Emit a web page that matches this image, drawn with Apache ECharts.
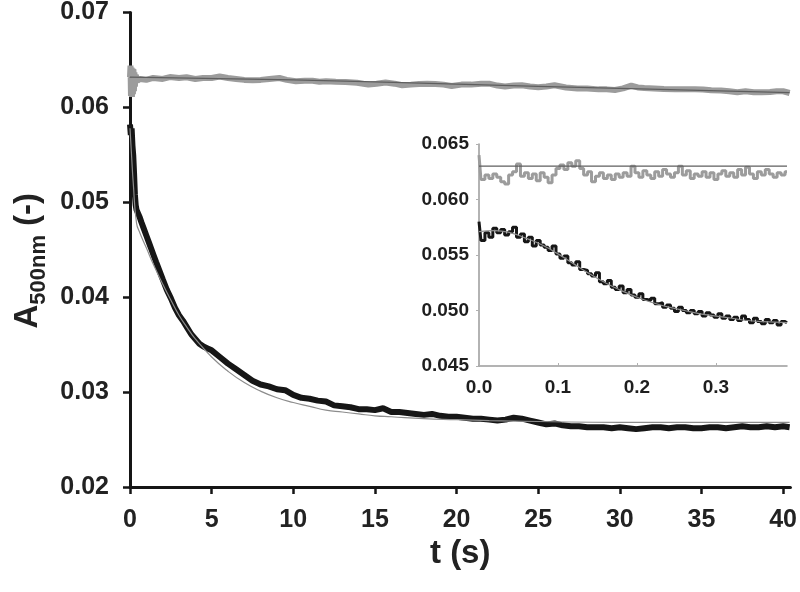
<!DOCTYPE html>
<html><head><meta charset="utf-8">
<script src="https://cdn.jsdelivr.net/npm/echarts@6/dist/echarts.min.js"></script>
<style>html,body{margin:0;padding:0;background:#fff}#c{width:800px;height:592px}</style>
</head><body><div id="c"></div>
<script>
// ---------- main panel ----------
const mainXTicks = [0, 5, 10, 15, 20, 25, 30, 35, 40];
const mainYTicks = [0.02, 0.03, 0.04, 0.05, 0.06, 0.07];

const greyT = [0,0.03,0.06,0.09,0.12,0.15,0.18,0.21,0.24,0.27,0.3,0.35,0.45,0.61,1.0,1.42,2.0,2.44,3.0,3.46,4.0,4.47,5.0,5.49,6.0,6.5,7.0,7.52,8.0,8.54,9.15,9.6,10.16,10.7,11.18,11.6,12.0,12.6,13.2,13.9,14.6,15.1,15.65,16.2,16.67,17.2,17.7,18.2,18.7,19.2,19.7,20.3,20.9,21.5,22.0,22.5,22.97,23.5,24.0,24.5,25.0,25.5,26.0,26.7,27.4,28.0,28.7,29.2,29.7,30.2,30.7,31.1,31.5,32.1,32.7,33.4,34.1,34.6,35.1,35.6,36.2,36.7,37.2,37.7,38.2,38.7,39.2,39.6,40.0,40.4];
const greyA = [0.0632,0.0644,0.0612,0.0642,0.0611,0.0641,0.0614,0.0640,0.0617,0.0637,0.0622,0.0634,0.0628,0.0630,0.0629,0.0631,0.0630,0.0632,0.0631,0.06317,0.0630,0.0631,0.0631,0.06325,0.0631,0.0630,0.0629,0.06286,0.0629,0.0630,0.0631,0.0629,0.06275,0.0628,0.0628,0.0627,0.06275,0.0627,0.06268,0.0626,0.0624,0.0625,0.06262,0.0625,0.06233,0.0624,0.06247,0.0625,0.06247,0.0624,0.06226,0.0624,0.0624,0.0625,0.0625,0.0623,0.0622,0.0623,0.06233,0.0622,0.06212,0.0622,0.06233,0.0621,0.0620,0.0620,0.0619,0.0619,0.06184,0.0620,0.0623,0.0621,0.06205,0.0620,0.06195,0.0619,0.0619,0.0619,0.06188,0.0618,0.06178,0.0617,0.0616,0.0617,0.0616,0.0616,0.06163,0.0617,0.0617,0.06152];

const greyFitT = [0, 10, 20, 30, 40.4];
const greyFitA = [0.0632, 0.0629, 0.06245, 0.0620, 0.06155];

const blackT = [0,0.05,0.1,0.15,0.2,0.25,0.3,0.35,0.4,0.5,0.6,0.7,0.85,1.0,1.15,1.3,1.45,1.6,1.8,2.0,2.25,2.5,2.75,3.0,3.25,3.5,3.75,4.0,4.25,4.5,4.75,5.0,5.5,6.0,6.5,7.0,7.5,8.0,8.5,9.0,9.5,10.0,10.5,11.0,11.5,12.0,12.5,13.0,13.5,14.0,14.5,15.0,15.5,16.0,16.5,17.0,17.5,18.0,18.5,19.0,19.5,20.0,20.5,21.0,21.5,22.0,22.5,23.0,23.5,24.0,24.5,25.0,25.5,26.0,26.5,27.0,27.5,28.0,28.5,29.0,29.5,30.0,30.5,31.0,31.5,32.0,32.5,33.0,33.5,34.0,34.5,35.0,35.5,36.0,36.5,37.0,37.5,38.0,38.5,39.0,39.5,40.0,40.4];
const blackA = [0.0582,0.0571,0.0578,0.0560,0.0549,0.0530,0.0508,0.0497,0.0492,0.0488,0.0484,0.0479,0.0472,0.0465,0.0458,0.0451,0.0444,0.0437,0.0428,0.0419,0.0408,0.0399,0.0389,0.0381,0.0375,0.0368,0.0361,0.0356,0.0351,0.0348,0.0346,0.0344,0.0337,0.0330,0.0324,0.0318,0.0312,0.0308,0.0306,0.0303,0.0302,0.0297,0.0294,0.0293,0.0291,0.0290,0.0286,0.0285,0.0284,0.0282,0.0282,0.0281,0.0283,0.0279,0.0279,0.0278,0.0277,0.0276,0.0277,0.0275,0.0274,0.0274,0.0273,0.0272,0.0272,0.0271,0.0270,0.0271,0.0273,0.0272,0.0270,0.0268,0.0266,0.0267,0.0265,0.0264,0.0264,0.0263,0.0263,0.0263,0.0262,0.0263,0.0262,0.0261,0.0262,0.0263,0.0263,0.0262,0.0263,0.0263,0.0262,0.0262,0.0263,0.0263,0.0262,0.0263,0.0264,0.0263,0.0263,0.0264,0.0263,0.0264,0.0263];

const blackFitT = [0,0.1,0.2,0.4,0.6,1.0,1.5,2.0,2.5,3.0,3.5,4.0,5.0,6.0,7.0,8.0,9.0,10.0,11.0,12.0,13.0,14.0,15.0,16.0,18.0,20.0,22.0,25.0,30.0,35.0,40.4];
const blackFitA = [0.0578,0.0548,0.0520,0.0478,0.0468,0.0452,0.0432,0.0414,0.0397,0.0381,0.0368,0.0356,0.0337,0.0322,0.0310,0.0301,0.0294,0.0289,0.0285,0.0281,0.0279,0.0277,0.0275,0.0274,0.0272,0.0271,0.0270,0.0269,0.0268,0.0268,0.0268];

// ---------- inset ----------
const insetXTicks = [0.0, 0.1, 0.2, 0.3];
const insetYTicks = [0.045, 0.050, 0.055, 0.060, 0.065];
const insetT = [0.000,0.005,0.010,0.015,0.020,0.025,0.030,0.035,0.040,0.045,0.050,0.055,0.060,0.065,0.070,0.075,0.080,0.085,0.090,0.095,0.100,0.105,0.110,0.115,0.120,0.125,0.130,0.135,0.140,0.145,0.150,0.155,0.160,0.165,0.170,0.175,0.180,0.185,0.190,0.195,0.200,0.205,0.210,0.215,0.220,0.225,0.230,0.235,0.240,0.245,0.250,0.255,0.260,0.265,0.270,0.275,0.280,0.285,0.290,0.295,0.300,0.305,0.310,0.315,0.320,0.325,0.330,0.335,0.340,0.345,0.350,0.355,0.360,0.365,0.370,0.375,0.380,0.385,0.390];
const insetBlack = [0.0580,0.0563,0.0570,0.0566,0.0574,0.0570,0.0573,0.0568,0.0571,0.0575,0.0566,0.0569,0.0562,0.0566,0.0558,0.0563,0.0559,0.0557,0.0554,0.0558,0.0551,0.0547,0.0549,0.0543,0.0541,0.0544,0.0537,0.0536,0.0533,0.0531,0.0534,0.0526,0.0524,0.0527,0.0521,0.0519,0.0522,0.0516,0.0519,0.0514,0.0512,0.0515,0.0510,0.0509,0.0511,0.0506,0.0507,0.0503,0.0505,0.0502,0.0499,0.0503,0.0500,0.0498,0.0500,0.0497,0.0499,0.0495,0.0498,0.0496,0.0494,0.0497,0.0493,0.0495,0.0492,0.0494,0.0491,0.0495,0.0492,0.0489,0.0493,0.0490,0.0488,0.0492,0.0489,0.0491,0.0487,0.0490,0.0489];
const insetGrey = [0.0640,0.0618,0.0622,0.0619,0.0623,0.0620,0.0616,0.0614,0.0622,0.0625,0.0632,0.0621,0.0624,0.0619,0.0623,0.0617,0.0624,0.0620,0.0615,0.0622,0.0628,0.0631,0.0627,0.0633,0.0630,0.0635,0.0628,0.0622,0.0625,0.0616,0.0621,0.0624,0.0619,0.0622,0.0618,0.0623,0.0620,0.0624,0.0621,0.0630,0.0624,0.0620,0.0626,0.0622,0.0619,0.0625,0.0621,0.0627,0.0623,0.0620,0.0624,0.0630,0.0622,0.0626,0.0619,0.0623,0.0621,0.0625,0.0620,0.0624,0.0618,0.0623,0.0626,0.0621,0.0624,0.0620,0.0627,0.0622,0.0629,0.0623,0.0619,0.0625,0.0622,0.0627,0.0623,0.0620,0.0624,0.0622,0.0625];
const insetGreyFitT = [0, 0.39];
const insetGreyFitA = [0.0630, 0.0630];
const insetBlackFitT = [0,0.02,0.04,0.06,0.08,0.10,0.12,0.14,0.16,0.18,0.20,0.22,0.24,0.26,0.28,0.30,0.32,0.34,0.36,0.39];
const insetBlackFitA = [0.0571,0.0572,0.0570,0.0565,0.0559,0.0551,0.0542,0.0533,0.0525,0.0518,0.0512,0.0507,0.0503,0.0500,0.0497,0.0495,0.0493,0.0491,0.0490,0.0489];

function zip(a, b) { const n = Math.min(a.length, b.length); const r = []; for (let i = 0; i < n; i++) r.push([a[i], b[i]]); return r; }

const FONT = 'Arial, "Liberation Sans", Helvetica, sans-serif';
const chart = echarts.init(document.getElementById('c'), null, { renderer: 'canvas' });

const option = {
  animation: false,
  backgroundColor: '#fff',
  grid: [
    { left: 130, top: 11, right: 7, bottom: 105 },
    { left: 479, top: 144, right: 13, bottom: 226 }
  ],
  xAxis: [
    {
      gridIndex: 0, type: 'value', min: 0, max: 40.45,
      name: 't (s)', nameLocation: 'middle', nameGap: 42,
      nameTextStyle: { fontFamily: FONT, fontSize: 33, fontWeight: 'bold', color: '#222' },
      axisLine: { show: true, onZero: false, lineStyle: { color: '#151515', width: 3 } },
      axisTick: { show: true, inside: false, length: 7, lineStyle: { color: '#151515', width: 2.5 }, customValues: mainXTicks },
      axisLabel: { fontFamily: FONT, fontSize: 25, fontWeight: 'bold', color: '#222', margin: 21, customValues: mainXTicks, formatter: v => String(v) },
      splitLine: { show: false }
    },
    {
      gridIndex: 1, type: 'value', min: 0, max: 0.39,
      axisLine: { show: true, onZero: false, lineStyle: { color: '#9a9a9a', width: 1.5 } },
      axisTick: { show: true, inside: true, length: 3, lineStyle: { color: '#b0b0b0', width: 1 }, customValues: insetXTicks },
      axisLabel: { fontFamily: FONT, fontSize: 19, fontWeight: 'bold', color: '#1e1e1e', margin: 12, customValues: insetXTicks, formatter: v => v.toFixed(1) },
      splitLine: { show: false }
    }
  ],
  yAxis: [
    {
      gridIndex: 0, type: 'value', min: 0.02, max: 0.07,
      name: '{a|A}{s|500nm}{a| (-)}', nameLocation: 'middle', nameGap: 80, nameRotate: 90,
      nameTextStyle: {
        fontFamily: FONT, fontWeight: 'bold', color: '#222', padding: [0, 22, 0, 0],
        rich: {
          a: { fontFamily: FONT, fontSize: 33, fontWeight: 'bold', color: '#222', lineHeight: 44, verticalAlign: 'middle' },
          s: { fontFamily: FONT, fontSize: 22, fontWeight: 'bold', color: '#222', lineHeight: 44, verticalAlign: 'bottom' }
        }
      },
      axisLine: { show: true, onZero: false, lineStyle: { color: '#151515', width: 3 } },
      axisTick: { show: true, inside: false, length: 7, lineStyle: { color: '#151515', width: 2.5 }, customValues: mainYTicks },
      axisLabel: { fontFamily: FONT, fontSize: 25, fontWeight: 'bold', color: '#222', margin: 21, customValues: mainYTicks, formatter: v => v.toFixed(2) },
      splitLine: { show: false }
    },
    {
      gridIndex: 1, type: 'value', min: 0.045, max: 0.065,
      axisLine: { show: true, onZero: false, lineStyle: { color: '#9a9a9a', width: 1.5 } },
      axisTick: { show: true, inside: false, length: 3, lineStyle: { color: '#b0b0b0', width: 1 }, customValues: insetYTicks },
      axisLabel: { fontFamily: FONT, fontSize: 19, fontWeight: 'bold', color: '#1e1e1e', margin: 10, customValues: insetYTicks, formatter: v => v.toFixed(3) },
      splitLine: { show: false }
    }
  ],
  series: [
    { type: 'line', xAxisIndex: 0, yAxisIndex: 0, data: zip(greyT, greyA), showSymbol: false, lineStyle: { color: '#9c9c9c', width: 6 }, z: 2 },
    { type: 'line', xAxisIndex: 0, yAxisIndex: 0, data: zip(greyFitT, greyFitA), smooth: true, showSymbol: false, lineStyle: { color: '#5e5e5e', width: 1.2 }, z: 3 },
    { type: 'line', xAxisIndex: 0, yAxisIndex: 0, data: zip(blackT, blackA), showSymbol: false, lineStyle: { color: '#161616', width: 6 }, z: 2 },
    { type: 'line', xAxisIndex: 0, yAxisIndex: 0, data: zip(blackFitT, blackFitA), smooth: true, showSymbol: false, lineStyle: { color: '#8c8c8c', width: 1.2 }, z: 3 },
    { type: 'line', xAxisIndex: 1, yAxisIndex: 1, data: zip(insetT, insetGrey), step: 'middle', showSymbol: false, lineStyle: { color: '#9c9c9c', width: 3 }, z: 2 },
    { type: 'line', xAxisIndex: 1, yAxisIndex: 1, data: zip(insetGreyFitT, insetGreyFitA), showSymbol: false, lineStyle: { color: '#5e5e5e', width: 1.2 }, z: 3 },
    { type: 'line', xAxisIndex: 1, yAxisIndex: 1, data: zip(insetT, insetBlack), step: 'middle', showSymbol: false, lineStyle: { color: '#161616', width: 3 }, z: 2 },
    { type: 'line', xAxisIndex: 1, yAxisIndex: 1, data: zip(insetBlackFitT, insetBlackFitA), smooth: true, showSymbol: false, lineStyle: { color: '#8c8c8c', width: 1.2 }, z: 3 }
  ]
};
chart.setOption(option);
</script>
</body></html>
